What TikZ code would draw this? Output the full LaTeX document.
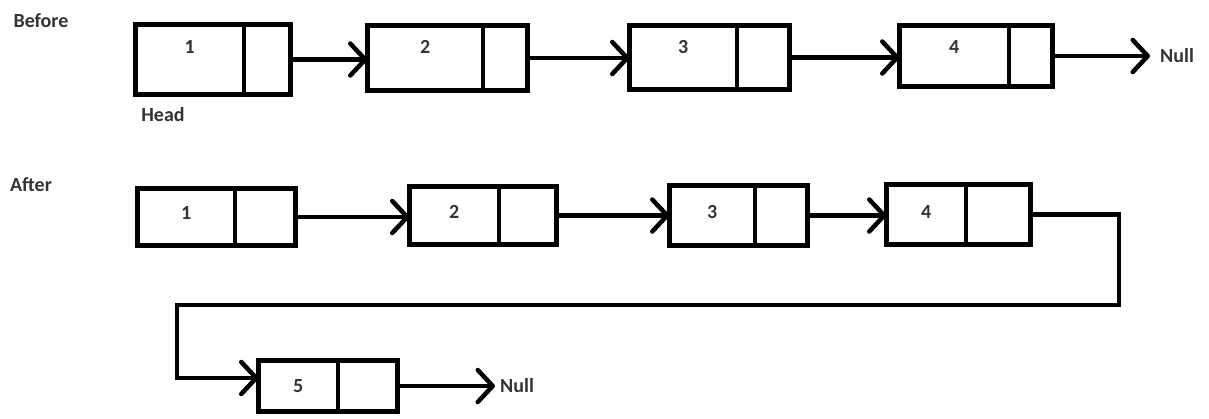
\documentclass[tikz,border=0pt]{standalone}
\usepackage{fontspec}
\setmainfont{Carlito}
\usepackage{tikz}
\usetikzlibrary{arrows.meta,positioning}

\definecolor{ink}{HTML}{333333}

\tikzset{
  cell/.style={draw, line width=4.5pt, outer sep=0pt, inner sep=0pt,
    font=\bfseries\fontsize{20}{24}\selectfont, text=ink, text height=12.6pt},
  link/.style={line width=4.5pt, -{Straight Barb[length=15pt,width=32pt,round]}},
  lbl/.style={inner sep=0pt, font=\bfseries\fontsize{20}{24}\selectfont, text=ink}
}

\begin{document}
\begin{tikzpicture}[x=1pt,y=-1pt]
\useasboundingbox (0,0) rectangle (1209,418);

% before the insert
\node[lbl] (before) at (41,21) {Before};
\node[cell, minimum width=108.5pt, minimum height=70pt, text depth=25pt] (n1) at (189.75,59.5) {1};
\node[cell, minimum width=46.5pt, minimum height=70pt, right=0pt of n1] (n1p) {};
\node[cell, minimum width=115.5pt, minimum height=65pt, text depth=22pt] (n2) at (425.25,58) {2};
\node[cell, minimum width=44.5pt, minimum height=65pt, right=0pt of n2] (n2p) {};
\node[cell, minimum width=107.5pt, minimum height=64pt, text depth=21pt] (n3) at (683.25,57.5) {3};
\node[cell, minimum width=52.5pt, minimum height=64pt, right=0pt of n3] (n3p) {};
\node[cell, minimum width=109.5pt, minimum height=61pt, text depth=18pt] (n4) at (954.25,56) {4};
\node[cell, minimum width=43.5pt, minimum height=61pt, right=0pt of n4] (n4p) {};
\node[lbl] (head) at (163,115) {Head};
\coordinate (end1) at (1150,56);
\node[lbl, right=10pt of end1] (null1) {Null};

\draw[link] (n1p.east) -- (n1p.east -| n2.west);
\draw[link] (n2p.east) -- (n2p.east -| n3.west);
\draw[link] (n3p.east) -- (n3p.east -| n4.west);
\draw[link] (n4p.east) -- (n4p.east -| end1);

% after the insert
\node[lbl] (after) at (31,185) {After};
\node[cell, minimum width=97.5pt, minimum height=57pt, text depth=8pt] (a1) at (186.25,217) {1};
\node[cell, minimum width=60.5pt, minimum height=57pt, right=0pt of a1] (a1p) {};
\node[cell, minimum width=89.5pt, minimum height=58pt, text depth=7pt] (a2) at (454.25,215.5) {2};
\node[cell, minimum width=57.5pt, minimum height=58pt, right=0pt of a2] (a2p) {};
\node[cell, minimum width=85.5pt, minimum height=60pt, text depth=7pt] (a3) at (712.25,215.5) {3};
\node[cell, minimum width=52.5pt, minimum height=60pt, right=0pt of a3] (a3p) {};
\node[cell, minimum width=79.5pt, minimum height=60pt, text depth=5pt] (a4) at (926.25,214.5) {4};
\node[cell, minimum width=64.5pt, minimum height=60pt, right=0pt of a4] (a4p) {};
\node[cell, minimum width=79.5pt, minimum height=51pt, text depth=0pt] (a5) at (298.25,386) {5};
\node[cell, minimum width=59.5pt, minimum height=51pt, right=0pt of a5] (a5p) {};
\coordinate (turnR) at (1119,305);
\coordinate (turnL) at (177,305);
\coordinate (end2) at (495,386);
\node[lbl, right=5pt of end2] (null2) {Null};

\draw[link] (a1p.east) -- (a1p.east -| a2.west);
\draw[link] (a2p.east) -- (a2p.east -| a3.west);
\draw[link] (a3p.east) -- (a3p.east -| a4.west);
\draw[link] (a4p.east) -| (turnR) -- (turnL) |- ([yshift=8pt]a5.west);
\draw[link] (a5p.east) -- (end2);
\end{tikzpicture}
\end{document}
